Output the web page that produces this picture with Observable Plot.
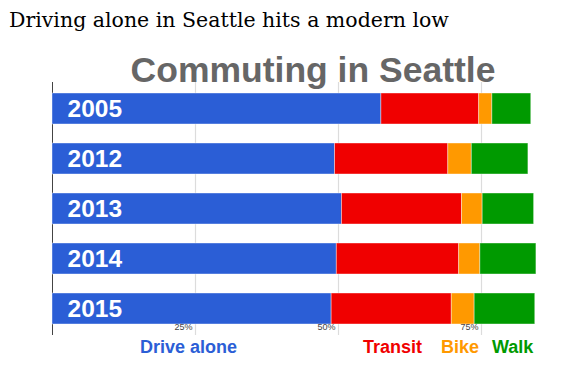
<!DOCTYPE html>
<html>
<head>
<meta charset="utf-8">
<script src="https://cdn.jsdelivr.net/npm/d3@7"></script>
<script src="https://cdn.jsdelivr.net/npm/@observablehq/plot@0.6"></script>
<style>
  html, body { margin: 0; padding: 0; background: #fff; }
  #wrap { position: relative; width: 577px; height: 371px; overflow: hidden; }
  #heading { position: absolute; left: 9px; top: 9.5px; font: 20.5px "DejaVu Serif", Georgia, serif; line-height: 20.5px; color: #000; white-space: nowrap; }
  #title { position: absolute; left: 313px; transform: translateX(-50%); top: 53px; font: bold 35.5px "Liberation Sans", Arial, sans-serif; line-height: 35.5px; color: #666; white-space: nowrap; }
  #chart { position: absolute; left: 0; top: 80px; }
  .leg { position: absolute; top: 338px; font: bold 18px "Liberation Sans", Arial, sans-serif; line-height: 18px; white-space: nowrap; }
</style>
</head>
<body>
<div id="wrap">
  <div id="heading">Driving alone in Seattle hits a modern low</div>
  <div id="chart"></div>
  <div id="title">Commuting in Seattle</div>
  <div id="legend"></div>
</div>
<script>
const years = ["2005", "2012", "2013", "2014", "2015"];
const modes = ["Drive alone", "Transit", "Bike", "Walk"];
const driveAlone = [57.5, 49.4, 50.6, 49.7, 48.8];
const transit = [17.1, 19.8, 21.0, 21.4, 21.0];
const bike = [2.3, 4.1, 3.6, 3.7, 4.0];
const walk = [6.8, 9.9, 9.0, 9.8, 10.6];
const xTicks = [25, 50, 75];
const colors = ["#2b5ed6", "#f00000", "#ff9900", "#009a00"];

const series = [driveAlone, transit, bike, walk];
const data = [];
years.forEach((year, i) => {
  modes.forEach((mode, j) => data.push({year, mode, value: series[j][i]}));
});

const chart = Plot.plot({
  width: 577,
  height: 255,
  marginTop: 2,
  marginBottom: 0,
  marginLeft: 52,
  marginRight: 10.2,
  style: {fontFamily: "'Liberation Sans', Arial, sans-serif", background: "transparent"},
  x: {domain: [0, 90], axis: null, label: null},
  y: {domain: years, paddingInner: 0.388, paddingOuter: 0.208, axis: null},
  color: {domain: modes, range: colors},
  marks: [
    Plot.ruleX(xTicks, {stroke: "#dcdcdc", strokeWidth: 1.2}),
    Plot.ruleX([0], {stroke: "#444", strokeWidth: 1}),
    Plot.barX(data, Plot.stackX({x: "value", y: "year", fill: "mode", stroke: "#fff", strokeOpacity: 0.5, strokeWidth: 0.8})),
    Plot.text(years, {x: 0, y: d => d, text: d => d, dx: 15, textAnchor: "start", fill: "#fff", fontWeight: "bold", fontSize: 24.5}),
    Plot.axisX({ticks: xTicks, tickFormat: d => d + "%", label: null, tickSize: 0, tickPadding: 0, dy: -12, dx: -3, textAnchor: "end", fontSize: 9, fill: "#444", stroke: null})
  ]
});
document.getElementById("chart").appendChild(chart);

const legendLeft = [140, 363, 441, 492];
const legend = document.getElementById("legend");
modes.forEach((m, i) => {
  const s = document.createElement("div");
  s.className = "leg";
  s.style.left = legendLeft[i] + "px";
  s.style.color = colors[i];
  s.textContent = m;
  legend.appendChild(s);
});
</script>
</body>
</html>
